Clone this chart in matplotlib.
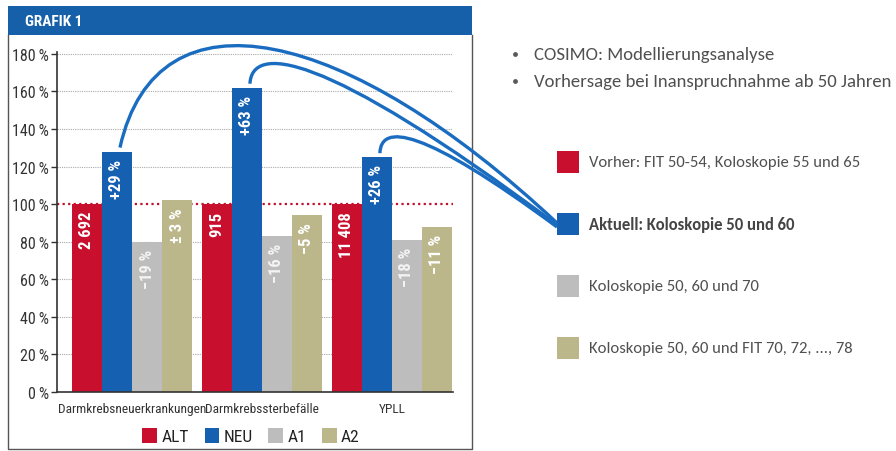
import numpy as np
import matplotlib
matplotlib.use("Agg")
import matplotlib.pyplot as plt
from matplotlib.path import Path
from matplotlib.patches import PathPatch, Rectangle

# data
categories = ["Darmkrebsneuerkrankungen", "Darmkrebssterbefälle", "YPLL"]
series = ["ALT", "NEU", "A1", "A2"]
alt = [100, 100, 100]
neu = [128, 162, 125]
a1 = [80, 83, 81]
a2 = [102, 94, 88]
alt_labels = ["2 692", "915", "11 408"]
neu_labels = ["+29 %", "+63 %", "+26 %"]
a1_labels = ["\u221219 %", "\u221216 %", "\u221218 %"]
a2_labels = ["\u00b1 3 %", "\u22125 %", "\u221211 %"]
yticks = [0, 20, 40, 60, 80, 100, 120, 140, 160, 180]
bullets = ["COSIMO: Modellierungsanalyse", "Vorhersage bei Inanspruchnahme ab 50 Jahren"]
scenario_texts = ["Vorher: FIT 50-54, Koloskopie 55 und 65",
                  "Aktuell: Koloskopie 50 und 60",
                  "Koloskopie 50, 60 und 70",
                  "Koloskopie 50, 60 und FIT 70, 72, ..., 78"]

colors = ["#c8102e", "#1560b0", "#bdbdbd", "#bcb78a"]
blue_line = "#1a6cc0"
narrow = ["Roboto Condensed", "DejaVu Sans"]
side = ["Carlito", "DejaVu Sans"]

W, H = 896, 452
fig = plt.figure(figsize=(W / 100, H / 100), dpi=100)

# main bar axes (pixel box: x 57..453, y 53..393)
ax = fig.add_axes([57 / W, 1 - 393 / H, (453 - 57) / W, (393 - 53) / H])
x = np.arange(len(categories))
bw = 0.231
vals = [alt, neu, a1, a2]
labs = [alt_labels, neu_labels, a1_labels, a2_labels]
lab_col = ["white", "white", "#f4f4f4", "white"]
for i, (v, l) in enumerate(zip(vals, labs)):
    pos = x + (i - 1.5) * bw
    ax.bar(pos, v, width=bw, color=colors[i], zorder=2, label=series[i])
    for p, h, t in zip(pos, v, l):
        ax.annotate(t, (p, h), xytext=(0, -5), textcoords="offset points",
                    rotation=90, ha="center", va="top", color=lab_col[i],
                    fontsize=12, fontweight="bold", family=narrow, zorder=3)

ax.set_xlim(-0.577, 2.47)
ax.set_ylim(0, 181)
for yv in yticks[1:]:
    if yv == 100:
        ax.axhline(yv, color="#c0102a", ls=(0, (1, 1.5)), lw=1.6, zorder=1)
    else:
        ax.axhline(yv, color="#aaaaaa", ls=(0, (1, 1)), lw=0.8, zorder=1)
ax.set_yticks(yticks)
ax.set_yticklabels([f"{v}\u2009%" for v in yticks], family=narrow, fontsize=11.5, color="#333333")
ax.set_xticks(x)
ax.set_xticklabels(categories, family=narrow, fontsize=9.6, color="#333333")
ax.tick_params(axis="x", length=0, pad=7)
ax.tick_params(axis="y", direction="out", length=4, width=1, color="#333333", pad=2)
for s in ["top", "right"]:
    ax.spines[s].set_visible(False)
ax.spines["left"].set_color("#333333")
ax.spines["bottom"].set_color("#333333")
ax.spines["left"].set_linewidth(1.2)
ax.spines["bottom"].set_linewidth(1.2)
ax.patch.set_alpha(0)

leg = fig.legend(loc="center", bbox_to_anchor=(251 / W, 1 - 437 / H), ncol=4, frameon=False,
                 handlelength=0.85, handleheight=1.0, handletextpad=0.25, columnspacing=0.9,
                 borderpad=0, prop={"family": narrow, "size": 12.5})
for t in leg.get_texts():
    t.set_color("#222222")

# overlay in pixel coordinates
ov = fig.add_axes([0, 0, 1, 1], zorder=5)
ov.set_xlim(0, W)
ov.set_ylim(H, 0)
ov.axis("off")
ov.patch.set_alpha(0)

ov.add_patch(Rectangle((8, 7), 464, 29, color="#1560a8", lw=0))
ov.text(25, 22, "GRAFIK 1", color="white", fontsize=11, fontweight="bold",
        family=narrow, va="center")
ov.plot([8, 8, 472, 472], [36, 450, 450, 36], color="#555555", lw=1.0)

ov.scatter([515, 515], [55, 82], s=6, color="#595959")
for k, t in enumerate(bullets):
    ov.text(534, 55 + 27 * k, t, fontsize=13.5, color="#505050", family=side, va="center")

sq_y = [163, 225, 287, 349]
for k, t in enumerate(scenario_texts):
    ov.add_patch(Rectangle((557, sq_y[k] - 11), 22, 22, color=colors[k], lw=0))
    ov.text(589, sq_y[k], t, fontsize=12, color="#444444" if k == 1 else "#505050",
            family=side, va="center", fontweight="bold" if k == 1 else "normal")

# connectors from NEU bar tops to the blue legend square
def to_px(px, py):
    d = ax.transData.transform((px, py))
    return d[0], H - d[1]

neu_x = x - 0.5 * bw
s1 = to_px(neu_x[0], neu[0]); s2 = to_px(neu_x[1], neu[1]); s3 = to_px(neu_x[2], neu[2])
end = (557, 226)
curves = [
    [(s1[0] + 3, s1[1] - 4), (s1[0] + 40, s1[1] - 170), (s1[0] + 230, s1[1] - 125), (end[0], end[1] - 2)],
    [(s2[0] + 3, s2[1] - 4), (s2[0] + 5, s2[1] - 42), (s2[0] + 70, s2[1] - 42), (end[0], end[1])],
    [(s3[0] + 3, s3[1] - 4), (s3[0] + 4, s3[1] - 34), (s3[0] + 45, s3[1] - 30), (end[0], end[1] + 2)],
]
for c in curves:
    path = Path(c, [Path.MOVETO, Path.CURVE4, Path.CURVE4, Path.CURVE4])
    ov.add_patch(PathPatch(path, fc="none", ec=blue_line, lw=2.4, zorder=6))

fig.savefig("out.png", dpi=100)
